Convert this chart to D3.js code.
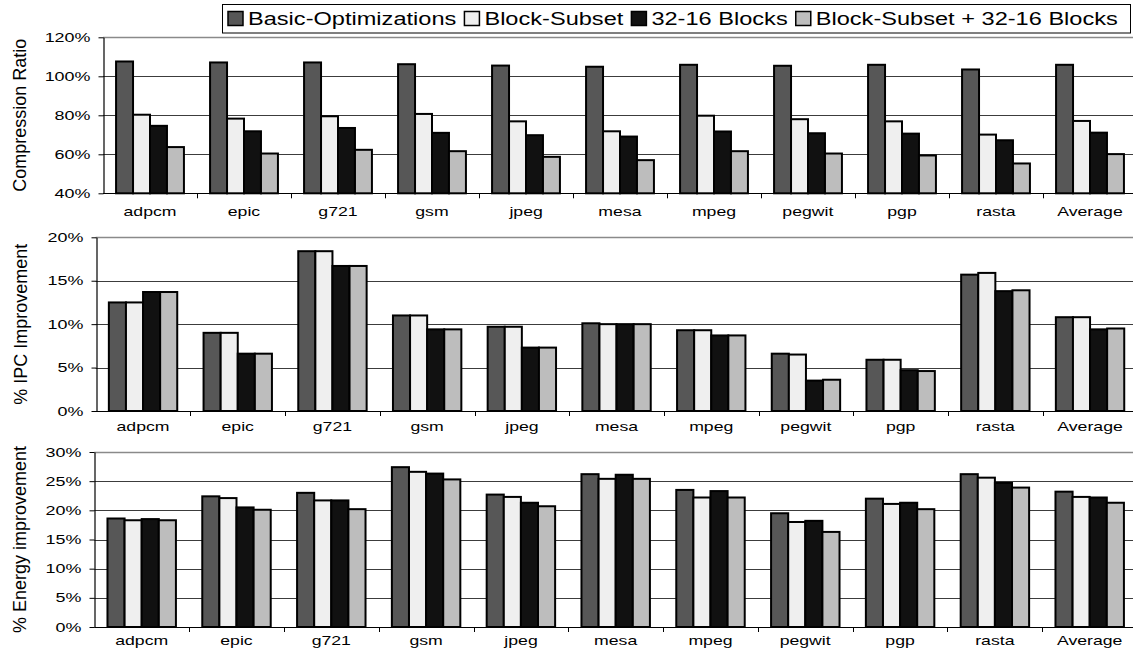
<!DOCTYPE html>
<html><head><meta charset="utf-8">
<script src="https://cdn.jsdelivr.net/npm/d3@7"></script>
<style>
body{margin:0;background:#fff;}
svg{display:block;font-family:Arial,"Liberation Sans",sans-serif;}
.stretch{transform-box:fill-box;}
</style></head><body>
<svg id="chart" width="1133" height="648"></svg>
<script>
// Benchmarks and configurations
const categories = ["adpcm","epic","g721","gsm","jpeg","mesa","mpeg","pegwit","pgp","rasta","Average"];
const seriesNames = ["Basic-Optimizations","Block-Subset","32-16 Blocks","Block-Subset + 32-16 Blocks"];

// Compression ratio (%)
const compressionBasic  = [107.6,107.1,107.1,106.2,105.5,104.9,105.9,105.4,105.9,103.5,105.9];
const compressionSubset = [80.3,78.3,79.5,80.7,76.9,71.8,79.8,78.0,76.9,70.1,77.1];
const compression3216   = [74.6,71.8,73.5,71.0,69.8,69.1,71.7,70.8,70.6,67.2,71.1];
const compressionBoth   = [63.7,60.4,62.3,61.6,58.7,57.0,61.6,60.4,59.4,55.3,60.1];
const compressionTicks  = [40,60,80,100,120];

// IPC improvement (%)
const ipcBasic  = [12.5,9.0,18.4,11.0,9.7,10.1,9.3,6.6,5.9,15.7,10.8];
const ipcSubset = [12.5,9.0,18.4,11.0,9.7,10.0,9.3,6.5,5.9,15.9,10.8];
const ipc3216   = [13.7,6.6,16.7,9.4,7.3,10.0,8.7,3.5,4.7,13.8,9.4];
const ipcBoth   = [13.7,6.6,16.7,9.4,7.3,10.0,8.7,3.6,4.6,13.9,9.5];
const ipcTicks  = [0,5,10,15,20];

// Energy improvement (%)
const energyBasic  = [18.6,22.4,23.0,27.4,22.7,26.2,23.5,19.5,22.0,26.2,23.2];
const energySubset = [18.3,22.1,21.7,26.6,22.3,25.4,22.2,18.0,21.1,25.6,22.3];
const energy3216   = [18.5,20.5,21.7,26.3,21.3,26.1,23.3,18.2,21.3,24.7,22.2];
const energyBoth   = [18.3,20.1,20.2,25.3,20.7,25.4,22.2,16.3,20.2,23.9,21.3];
const energyTicks  = [0,5,10,15,20,25,30];

const fills = ["#575757","#efefef","#111111","#bdbdbd"];

const panels = [
  { title:"Compression Ratio", series:[compressionBasic,compressionSubset,compression3216,compressionBoth],
    ticks:compressionTicks, left:103, step:94, top:37.3, bottom:193.3, titleX:20, labelY:216 },
  { title:"% IPC Improvement", series:[ipcBasic,ipcSubset,ipc3216,ipcBoth],
    ticks:ipcTicks, left:95.7, step:94.7, top:237.3, bottom:411, titleX:21, labelY:431 },
  { title:"% Energy improvement", series:[energyBasic,energySubset,energy3216,energyBoth],
    ticks:energyTicks, left:94.3, step:94.8, top:452, bottom:627, titleX:20, labelY:645 }
];

const svg = d3.select("#chart");
const W = 1133;

// horizontally widened text, anchored at the given origin
function widen(sel, sx, origin) {
  sel.attr("class","stretch")
     .style("transform-origin", origin)
     .style("transform", `scaleX(${sx})`);
}

panels.forEach(p => {
  const g = svg.append("g");
  const x = d3.scaleBand().domain(categories)
    .range([p.left, p.left + p.step * categories.length]);
  const xs = d3.scaleBand().domain(d3.range(seriesNames.length))
    .range([0, x.bandwidth()]).paddingInner(0).paddingOuter(0.77);
  const y = d3.scaleLinear().domain([p.ticks[0], p.ticks[p.ticks.length-1]])
    .range([p.bottom, p.top]);

  // gridlines
  g.append("g").selectAll("line").data(p.ticks.slice(1)).join("line")
    .attr("x1", p.left).attr("x2", W)
    .attr("y1", d => Math.round(y(d)) + 0.5).attr("y2", d => Math.round(y(d)) + 0.5)
    .attr("stroke", (d,i,a) => i === a.length-1 ? "#8a8a8a" : "#3c3c3c")
    .attr("stroke-width", (d,i,a) => i === a.length-1 ? 1.5 : 1);

  // y axis
  const ya = g.append("g").attr("transform", `translate(${Math.round(p.left)+0.5},0)`)
    .call(d3.axisLeft(y).tickValues(p.ticks).tickSize(5).tickSizeOuter(0)
      .tickPadding(8).tickFormat(d => d + "%"));
  ya.select(".domain").attr("stroke","#000").attr("stroke-width",1.2);
  ya.selectAll(".tick line").attr("stroke","#000");
  ya.selectAll(".tick text").attr("font-size",13).attr("font-family",null).attr("fill","#000")
    .call(widen, 1.38, "100% 50%");

  // x axis line and boundary ticks
  g.append("line").attr("x1", p.left).attr("x2", W)
    .attr("y1", Math.round(p.bottom)+0.5).attr("y2", Math.round(p.bottom)+0.5)
    .attr("stroke","#000").attr("stroke-width",1.2);
  g.append("g").selectAll("line").data(categories.slice(1)).join("line")
    .attr("x1", d => Math.round(x(d))+0.5).attr("x2", d => Math.round(x(d))+0.5)
    .attr("y1", p.bottom).attr("y2", p.bottom + 5)
    .attr("stroke","#000");

  // bars
  g.append("g").selectAll("g").data(p.series).join("g")
    .attr("fill", (d,i) => fills[i])
    .selectAll("rect").data((d,i) => d.map((v,j) => ({v, j, i}))).join("rect")
    .attr("x", d => x(categories[d.j]) + xs(d.i))
    .attr("width", xs.bandwidth())
    .attr("y", d => y(d.v))
    .attr("height", d => y(p.ticks[0]) - y(d.v))
    .attr("stroke","#000").attr("stroke-width",2);

  // category labels
  g.append("g").selectAll("text").data(categories).join("text")
    .attr("x", d => x(d) + x.bandwidth()/2).attr("y", p.labelY)
    .attr("text-anchor","middle").attr("font-size",13).text(d => d)
    .call(widen, 1.36, "50% 50%");

  // axis title
  g.append("g").attr("transform", `translate(${p.titleX},${(p.top+p.bottom)/2})`)
    .append("text").attr("transform","rotate(-90)").attr("text-anchor","middle")
    .attr("dy","0.35em").attr("font-size",18).text(p.title);
});

// legend
const lg = svg.append("g");
lg.append("rect").attr("x",222.5).attr("y",4.5).attr("width",908).attr("height",28.5)
  .attr("fill","#fff").attr("stroke","#000");
let cx = 228;
const sxL = 1.275;
seriesNames.forEach((name, i) => {
  lg.append("rect").attr("x", cx).attr("y", 11.5).attr("width", 15).attr("height", 14)
    .attr("fill", fills[i]).attr("stroke","#000").attr("stroke-width",1.5);
  const t = lg.append("text").attr("x", cx + 20).attr("y", 25).attr("font-size",18.5).text(name);
  const w = t.node().getComputedTextLength();
  t.call(widen, sxL, "0% 50%");
  cx += 20 + w * sxL + 8;
});
</script>
</body></html>
